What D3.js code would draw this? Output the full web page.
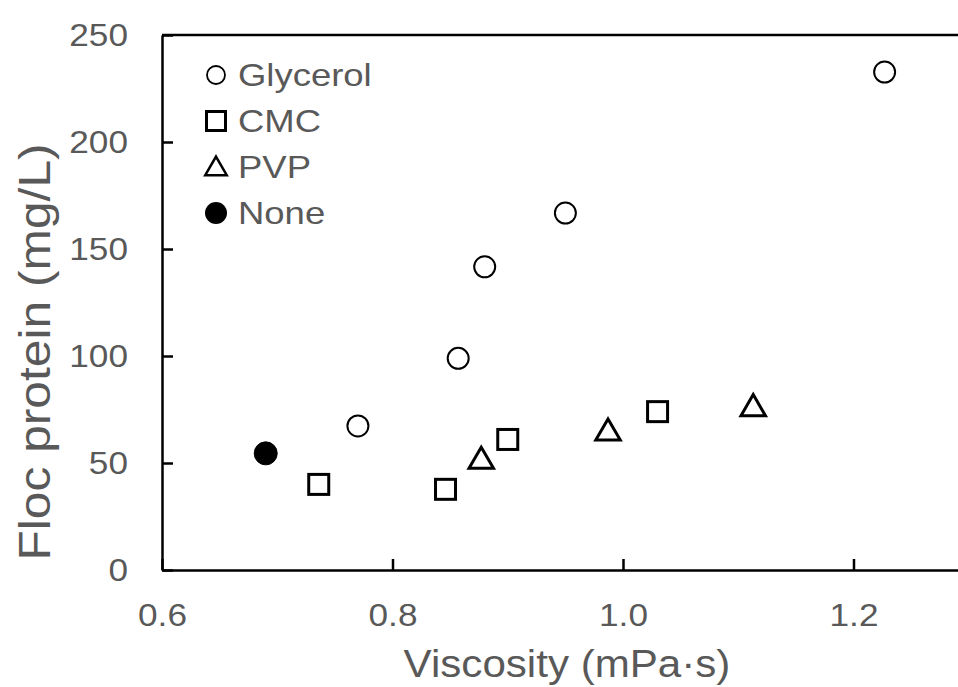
<!DOCTYPE html>
<html>
<head>
<meta charset="utf-8">
<script src="https://cdn.jsdelivr.net/npm/d3@7"></script>
<style>
  body { margin: 0; background: #fff; }
  svg { display: block; font-family: "Liberation Sans", Arial, sans-serif; }
</style>
</head>
<body>
<div id="chart"></div>
<script>
// Datos
const glicerolX = [0.770, 0.857, 0.880, 0.950, 1.227];
const glicerolY = [67.3, 98.9, 141.7, 166.8, 232.7];
const cmcX = [0.736, 0.846, 0.900, 1.030];
const cmcY = [40.0, 37.7, 61.0, 74.0];
const pvpX = [0.877, 0.987, 1.113];
const pvpY = [52.2, 65.4, 76.8];
const ningunoX = [0.690];
const ningunoY = [54.5];

const xTicks = [0.6, 0.8, 1.0, 1.2];
const yTicks = [0, 50, 100, 150, 200, 250];
const leyenda = ["Glycerol", "CMC", "PVP", "None"];

const svgWidth = 958, svgHeight = 687;
const gris = "#595959";

const svg = d3.select("#chart")
    .append("svg")
    .attr("width", svgWidth)
    .attr("height", svgHeight);

// Escalas (el area llega mas alla del borde derecho, como en el original)
const x = d3.scaleLinear().domain([0.6, 1.4]).range([162, 1084]);
const y = d3.scaleLinear().domain([0, 250]).range([570, 35]);

// Borde superior
svg.append("line")
    .attr("x1", x(0.6)).attr("x2", x(1.4))
    .attr("y1", y(250)).attr("y2", y(250))
    .attr("stroke", "#000").attr("stroke-width", 2.5);

// Eje X
const ejeX = svg.append("g")
    .attr("transform", `translate(0, ${y(0)})`)
    .call(d3.axisBottom(x).tickValues(xTicks).tickFormat(d3.format(".1f"))
        .tickSizeInner(-11).tickSizeOuter(0));
ejeX.select(".domain").attr("stroke", "#000").attr("stroke-width", 2.5);
ejeX.selectAll(".tick line").attr("stroke", "#000").attr("stroke-width", 2.5);
ejeX.selectAll(".tick text")
    .attr("fill", gris)
    .style("font-size", "32px")
    .attr("dy", "0.71em")
    .attr("y", 33)
    .attr("transform", "scale(1.1,1)");

// Eje Y
const ejeY = svg.append("g")
    .attr("transform", `translate(${x(0.6)}, 0)`)
    .call(d3.axisLeft(y).tickValues(yTicks)
        .tickSizeInner(-11).tickSizeOuter(0).tickPadding(34));
ejeY.select(".domain").attr("stroke", "#000").attr("stroke-width", 2.5);
ejeY.selectAll(".tick line").attr("stroke", "#000").attr("stroke-width", 2.5);
ejeY.selectAll(".tick text")
    .attr("fill", gris)
    .style("font-size", "32px")
    .attr("transform", "translate(-34,0) scale(1.1,1) translate(34,0)");

// Simbolos
const tri = d3.symbol().type(d3.symbolTriangle).size(260);

function circulos(xs, ys, relleno) {
    svg.append("g").selectAll("circle")
        .data(xs.map((v, i) => [v, ys[i]]))
        .enter().append("circle")
        .attr("cx", d => x(d[0]))
        .attr("cy", d => y(d[1]))
        .attr("r", relleno ? 11.5 : 10.5)
        .attr("fill", relleno ? "#000" : "#fff")
        .attr("stroke", "#000")
        .attr("stroke-width", relleno ? 1 : 2);
}

circulos(glicerolX, glicerolY, false);
circulos(ningunoX, ningunoY, true);

svg.append("g").selectAll("rect")
    .data(cmcX.map((v, i) => [v, cmcY[i]]))
    .enter().append("rect")
    .attr("x", d => x(d[0]) - 10)
    .attr("y", d => y(d[1]) - 10)
    .attr("width", 20).attr("height", 20)
    .attr("fill", "#fff")
    .attr("stroke", "#000")
    .attr("stroke-width", 3);

svg.append("g").selectAll("path")
    .data(pvpX.map((v, i) => [v, pvpY[i]]))
    .enter().append("path")
    .attr("d", tri)
    .attr("transform", d => `translate(${x(d[0])}, ${y(d[1]) + 3})`)
    .attr("fill", "#fff")
    .attr("stroke", "#000")
    .attr("stroke-width", 3)
    .attr("stroke-linejoin", "miter");

// Leyenda
const ley = svg.append("g").attr("transform", "translate(216, 75)");
leyenda.forEach((nombre, i) => {
    const g = ley.append("g").attr("transform", `translate(0, ${i * 46})`);
    if (i === 0) {
        g.append("circle").attr("r", 9).attr("fill", "#fff")
            .attr("stroke", "#000").attr("stroke-width", 1.8);
    } else if (i === 1) {
        g.append("rect").attr("x", -9.5).attr("y", -9.5)
            .attr("width", 19).attr("height", 19)
            .attr("fill", "#fff").attr("stroke", "#000").attr("stroke-width", 3);
    } else if (i === 2) {
        g.append("path").attr("d", d3.symbol().type(d3.symbolTriangle).size(200))
            .attr("transform", "translate(0, 2)")
            .attr("fill", "#fff").attr("stroke", "#000").attr("stroke-width", 2.5);
    } else {
        g.append("circle").attr("r", 11).attr("fill", "#000");
    }
    g.append("text")
        .attr("x", 22)
        .attr("y", 0)
        .attr("dy", "0.35em")
        .attr("fill", gris)
        .style("font-size", "32px")
        .attr("transform", "translate(22,0) scale(1.14,1) translate(-22,0)")
        .text(nombre);
});

// Etiqueta de eje X
svg.append("text")
    .attr("x", 0)
    .attr("y", 0)
    .attr("text-anchor", "middle")
    .attr("fill", gris)
    .style("font-size", "39px")
    .attr("transform", "translate(567, 677) scale(1.08,1)")
    .text("Viscosity (mPa·s)");

// Etiqueta de eje Y
svg.append("text")
    .attr("x", 0)
    .attr("y", 0)
    .attr("text-anchor", "middle")
    .attr("fill", gris)
    .style("font-size", "44px")
    .attr("transform", "translate(50, 352) rotate(-90) scale(1.13,1)")
    .text("Floc protein (mg/L)");
</script>
</body>
</html>
